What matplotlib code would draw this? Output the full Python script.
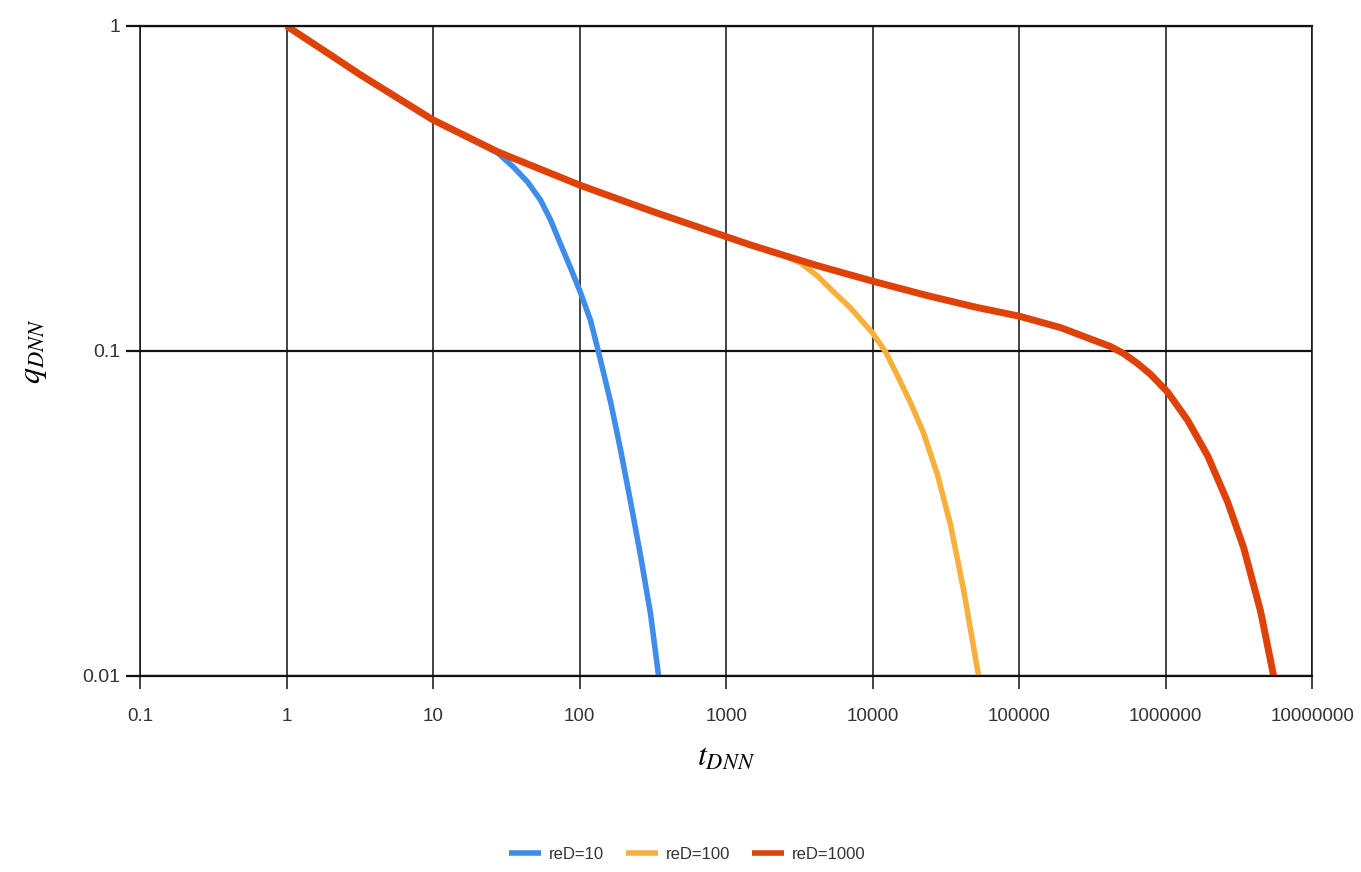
import matplotlib
matplotlib.use('Agg')
import matplotlib.pyplot as plt
from matplotlib.ticker import FixedLocator, FixedFormatter, NullLocator

# values
t_red = [1, 2, 3.2, 10, 27.6, 100, 320, 1023, 1468, 2470, 4210, 8280, 1e4, 2.37e4,
         5.2e4, 1e5, 1.92e5, 3.22e5, 4.21e5, 5.17e5, 6.44e5, 7.9e5, 1.03e6, 1.41e6,
         1.94e6, 2.65e6, 3.41e6, 4.45e6, 5.46e6]
q_red = [1, 0.814, 0.707, 0.514, 0.41, 0.324, 0.268, 0.224, 0.212, 0.197, 0.183,
         0.168, 0.164, 0.148, 0.136, 0.128, 0.118, 0.108, 0.1032, 0.0982, 0.0915,
         0.0847, 0.0748, 0.0613, 0.0475, 0.0343, 0.0248, 0.0158, 0.01]

t_orange = [1, 2, 3.2, 10, 27.6, 100, 320, 1023, 1468, 2469, 3225, 4213, 5418, 7076,
            1e4, 1.227e4, 1.481e4, 1.817e4, 2.228e4, 2.778e4, 3.407e4, 4.18e4, 5.29e4]
q_orange = [1, 0.814, 0.707, 0.514, 0.41, 0.324, 0.268, 0.224, 0.212, 0.197, 0.1866,
            0.170, 0.152, 0.1356, 0.1136, 0.0993, 0.0838, 0.0692, 0.0559, 0.0415,
            0.0291, 0.0184, 0.01]

t_blue = [1, 2, 3.2, 10, 18, 22.8, 27.6, 35.4, 44.2, 54.2, 63.4, 74.2, 86.8, 101.6,
          118.9, 132.7, 162.8, 190.5, 222.9, 260.9, 305.2, 346.1]
q_blue = [1, 0.814, 0.707, 0.514, 0.449, 0.426, 0.407, 0.368, 0.331, 0.291, 0.253,
          0.213, 0.180, 0.151, 0.124, 0.102, 0.0697, 0.0496, 0.0343, 0.0234, 0.0155, 0.01]

series_names = ['reD=10', 'reD=100', 'reD=1000']
x_ticks = [0.1, 1, 10, 100, 1000, 1e4, 1e5, 1e6, 1e7]
x_labels = ['0.1', '1', '10', '100', '1000', '10000', '100000', '1000000', '10000000']
y_ticks = [0.01, 0.1, 1]
y_labels = ['0.01', '0.1', '1']

tick_font = ['Liberation Sans', 'DejaVu Sans']
plt.rcParams['mathtext.fontset'] = 'stix'

fig = plt.figure(figsize=(13.61, 8.72), dpi=100)
ax = fig.add_axes([0.1029, 0.2248, 0.8612, 0.7454])

ax.plot(t_blue, q_blue, color='#3F8DEA', lw=4.0, label=series_names[0], solid_capstyle='butt')
ax.plot(t_orange, q_orange, color='#F8B03C', lw=4.0, label=series_names[1], solid_capstyle='butt')
ax.plot(t_red, q_red, color='#DE4208', lw=5.0, label=series_names[2], solid_capstyle='butt')

ax.set_xscale('log')
ax.set_yscale('log')
ax.set_xlim(0.1, 1e7)
ax.set_ylim(0.01, 1)

ax.xaxis.set_major_locator(FixedLocator(x_ticks))
ax.xaxis.set_major_formatter(FixedFormatter(x_labels))
ax.xaxis.set_minor_locator(NullLocator())
ax.yaxis.set_major_locator(FixedLocator(y_ticks))
ax.yaxis.set_major_formatter(FixedFormatter(y_labels))
ax.yaxis.set_minor_locator(NullLocator())

ax.grid(True, axis='x', color='#111111', lw=1.1)
ax.grid(True, axis='y', color='#111111', lw=1.6)
ax.set_axisbelow(True)
for side in ['left', 'right']:
    ax.spines[side].set_linewidth(1.1)
    ax.spines[side].set_color('#111111')
for side in ['top', 'bottom']:
    ax.spines[side].set_linewidth(1.6)
    ax.spines[side].set_color('#111111')

ax.tick_params(axis='x', length=9, width=1.1, pad=14, labelsize=13.5, colors='#111111')
ax.tick_params(axis='y', length=10, width=1.6, pad=4, labelsize=14, colors='#111111')
for lbl in ax.get_xticklabels() + ax.get_yticklabels():
    lbl.set_family(tick_font)
    lbl.set_color('#333333')

ax.set_xlabel(r'$t_{DNN}$', fontsize=23, labelpad=12)
ax.set_ylabel(r'$q_{DNN}$', fontsize=23, labelpad=24)

leg = fig.legend(loc='lower center', bbox_to_anchor=(0.505, 0.0), ncol=3, frameon=False,
                 prop={'family': tick_font, 'size': 12}, borderpad=0.1,
                 handlelength=1.9, handletextpad=0.5, columnspacing=1.3)
for line in leg.get_lines():
    line.set_linewidth(4)
for txt in leg.get_texts():
    txt.set_color('#333333')

fig.savefig('out.png', dpi=100)
